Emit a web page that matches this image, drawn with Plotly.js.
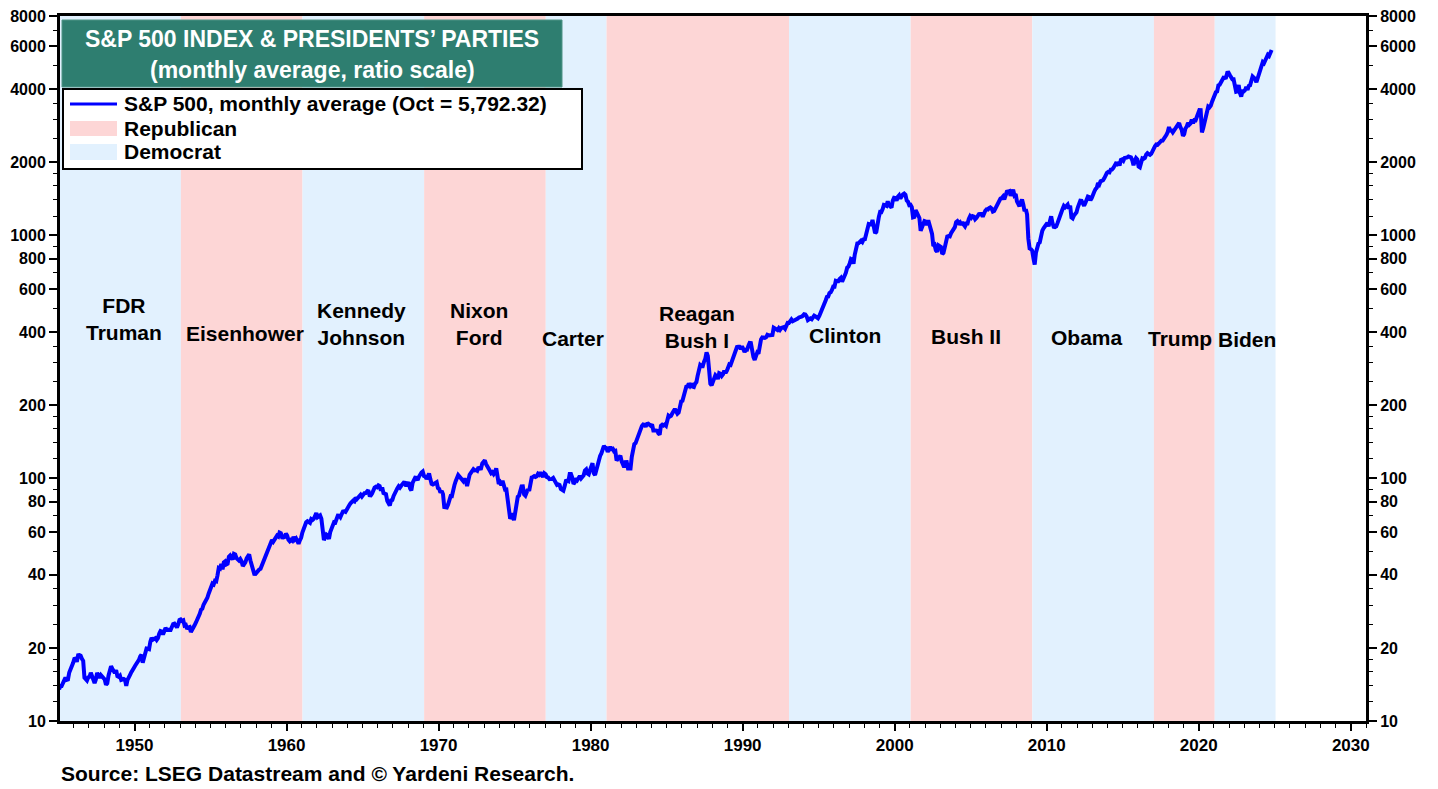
<!DOCTYPE html>
<html>
<head>
<meta charset="utf-8">
<script src="https://cdn.plot.ly/plotly-3.0.1.min.js"></script>
<style>
  html, body { margin: 0; padding: 0; background: #ffffff; }
  #chart { width: 1438px; height: 789px; }
</style>
</head>
<body>
<div id="chart"></div>
<script>
// ---------------- DATA ----------------
// S&P 500 monthly average, starting January 1945 (one row per year, Jan..Dec)
const startYear = 1945;
const sp1940s = [
  13.49, 13.94, 13.93, 14.28, 14.82, 15.09, 14.78, 14.83, 15.84, 16.50, 17.04, 17.33,
  18.02, 18.07, 17.53, 18.66, 18.70, 18.58, 18.05, 17.70, 15.09, 14.75, 14.69, 15.13,
  15.21, 15.80, 15.16, 14.60, 14.34, 14.84, 15.77, 15.46, 15.06, 15.45, 15.27, 15.03,
  14.83, 14.10, 14.30, 15.40, 16.15, 16.82, 16.42, 15.94, 15.76, 16.19, 15.29, 15.19,
  15.36, 14.77, 14.91, 14.89, 14.78, 13.97, 14.76, 15.29, 15.49, 15.89, 16.11, 16.54
];
const sp1950s = [
  16.88, 17.21, 17.35, 17.84, 18.44, 18.74, 17.38, 18.43, 19.08, 19.87, 19.83, 19.75,
  21.21, 22.00, 21.63, 21.92, 21.93, 21.55, 21.93, 22.89, 23.48, 23.36, 22.71, 23.41,
  24.19, 23.75, 23.81, 23.74, 23.73, 24.38, 25.08, 25.18, 24.78, 24.26, 25.03, 26.04,
  26.18, 25.86, 25.99, 24.71, 24.84, 23.95, 24.29, 24.39, 23.27, 23.97, 24.50, 24.83,
  25.46, 26.02, 26.57, 27.63, 28.73, 28.96, 30.13, 30.73, 31.45, 32.18, 33.44, 34.97,
  35.60, 36.79, 36.50, 37.76, 37.60, 39.78, 42.69, 42.43, 44.34, 42.11, 44.95, 45.37,
  44.15, 44.43, 47.49, 48.05, 46.54, 46.27, 48.78, 48.49, 46.84, 46.24, 45.76, 46.44,
  45.43, 43.47, 44.03, 45.05, 46.78, 47.55, 48.51, 45.84, 43.98, 41.24, 40.35, 40.33,
  41.12, 41.26, 42.11, 42.34, 43.70, 44.75, 45.98, 47.70, 48.96, 50.95, 52.50, 53.49,
  55.62, 54.77, 56.15, 57.10, 57.96, 57.46, 59.74, 59.40, 57.05, 57.00, 57.23, 59.06
];
const sp1960s = [
  58.03, 55.78, 55.02, 55.73, 55.22, 57.26, 55.84, 56.51, 54.81, 53.73, 55.47, 56.80,
  59.72, 62.17, 64.12, 65.83, 66.50, 65.62, 65.44, 67.79, 67.26, 68.00, 71.08, 71.74,
  69.07, 70.22, 70.29, 68.05, 62.99, 55.63, 56.97, 58.52, 58.00, 56.17, 60.04, 62.64,
  65.06, 65.92, 65.67, 68.76, 70.14, 70.11, 69.07, 70.98, 72.85, 73.03, 72.62, 74.17,
  76.45, 77.39, 78.80, 79.94, 80.72, 80.24, 83.22, 82.00, 83.41, 84.85, 85.44, 83.96,
  86.12, 86.75, 86.83, 87.97, 89.28, 85.04, 84.91, 86.49, 89.38, 91.39, 92.15, 91.73,
  93.32, 92.69, 88.88, 91.60, 86.78, 86.06, 85.84, 80.65, 77.81, 77.13, 80.99, 81.33,
  84.45, 87.36, 89.42, 90.96, 92.59, 91.43, 93.01, 94.49, 95.81, 95.66, 92.66, 95.30,
  95.04, 90.75, 89.09, 95.67, 97.87, 100.5, 100.3, 98.11, 101.3, 103.8, 105.4, 106.5,
  102.0, 101.5, 99.30, 101.3, 104.6, 99.14, 94.71, 94.18, 94.51, 95.52, 96.21, 91.11
];
const sp1970s = [
  90.31, 87.16, 88.65, 85.95, 76.06, 75.59, 75.72, 77.92, 82.58, 84.37, 84.28, 90.05,
  93.49, 97.11, 99.60, 103.0, 101.6, 99.72, 99.00, 97.24, 99.40, 97.29, 92.78, 99.17,
  103.3, 105.2, 107.7, 108.8, 107.7, 108.0, 107.2, 111.0, 109.4, 109.6, 115.1, 117.5,
  118.4, 114.2, 112.4, 110.3, 107.2, 104.8, 105.8, 103.8, 105.6, 109.8, 102.0, 94.78,
  96.11, 93.45, 97.44, 92.46, 89.67, 89.79, 82.82, 76.03, 68.12, 69.44, 71.74, 67.07,
  72.56, 80.10, 83.78, 84.72, 90.10, 92.40, 92.49, 85.71, 84.67, 88.57, 90.07, 88.70,
  96.86, 100.6, 101.1, 101.9, 101.2, 101.8, 104.2, 103.3, 105.5, 101.9, 101.2, 104.7,
  103.8, 101.0, 100.6, 99.05, 98.76, 99.29, 100.2, 97.75, 96.23, 93.74, 94.28, 93.82,
  90.25, 88.98, 88.82, 92.71, 97.41, 97.66, 97.19, 103.9, 103.9, 100.6, 94.71, 96.11,
  99.71, 98.23, 100.1, 102.1, 99.73, 101.7, 102.7, 107.4, 108.6, 104.5, 103.7, 107.8
];
const sp1980s = [
  110.9, 115.3, 104.7, 103.0, 107.7, 114.6, 119.8, 123.5, 126.5, 130.2, 135.7, 133.5,
  133.0, 128.4, 133.2, 134.4, 131.7, 132.3, 129.1, 129.6, 118.3, 119.8, 122.9, 123.8,
  117.3, 114.5, 110.8, 116.3, 116.4, 109.7, 109.4, 109.7, 122.4, 132.7, 138.1, 139.4,
  144.3, 146.8, 151.9, 157.7, 164.1, 166.4, 166.0, 163.0, 167.2, 167.7, 165.2, 164.4,
  166.4, 157.3, 157.4, 157.6, 156.6, 153.1, 151.1, 164.4, 166.1, 164.8, 166.3, 164.5,
  171.6, 180.9, 179.4, 180.6, 184.9, 188.9, 192.5, 188.3, 184.1, 186.2, 197.5, 207.3,
  208.2, 219.4, 232.3, 238.0, 238.5, 245.3, 240.2, 245.0, 238.3, 237.4, 245.1, 248.6,
  264.5, 280.9, 292.5, 289.3, 289.1, 301.4, 310.1, 329.4, 318.7, 280.2, 245.0, 241.0,
  250.5, 258.1, 265.7, 262.6, 256.1, 270.7, 269.1, 263.7, 268.0, 277.4, 271.0, 276.5,
  285.4, 294.0, 292.7, 302.3, 313.9, 323.7, 331.9, 346.6, 347.3, 347.4, 340.2, 348.6
];
const sp1990s = [
  340.0, 330.5, 338.5, 338.2, 350.3, 360.4, 360.0, 330.8, 315.4, 307.1, 315.3, 328.8,
  325.5, 362.3, 372.3, 379.7, 377.9, 378.3, 380.2, 389.4, 387.2, 386.9, 385.9, 388.5,
  416.1, 412.6, 407.4, 407.4, 414.8, 408.3, 415.1, 417.9, 418.5, 412.5, 422.8, 435.6,
  435.2, 441.7, 450.2, 443.1, 445.3, 448.1, 447.3, 454.1, 459.2, 463.9, 462.9, 466.0,
  473.0, 471.6, 463.8, 447.2, 450.9, 454.8, 451.4, 464.2, 467.0, 463.8, 461.0, 455.2,
  465.3, 481.9, 493.2, 507.9, 523.8, 539.4, 557.4, 559.1, 578.8, 582.9, 595.5, 614.6,
  614.4, 649.5, 647.1, 647.2, 661.2, 668.5, 644.1, 662.7, 674.9, 701.5, 735.7, 743.3,
  766.2, 798.4, 792.2, 763.9, 833.1, 876.3, 925.3, 927.7, 937.0, 951.2, 938.9, 962.4,
  963.4, 1023.7, 1076.8, 1112.2, 1108.4, 1108.4, 1156.6, 1074.6, 1020.6, 1032.5, 1144.4, 1190.1,
  1248.8, 1246.6, 1281.7, 1334.8, 1332.1, 1322.6, 1381.0, 1327.5, 1318.2, 1300.0, 1391.0, 1428.7
];
const sp2000s = [
  1425.6, 1388.9, 1442.2, 1461.4, 1418.5, 1462.0, 1473.0, 1485.5, 1468.1, 1390.1, 1375.0, 1330.9,
  1335.6, 1305.8, 1185.9, 1189.8, 1270.4, 1238.7, 1204.5, 1178.5, 1044.6, 1076.6, 1129.7, 1144.9,
  1140.2, 1100.7, 1153.8, 1112.0, 1079.3, 1014.0, 903.6, 912.6, 867.8, 854.6, 909.9, 899.2,
  895.8, 837.6, 846.6, 890.0, 936.0, 988.0, 992.5, 989.5, 1019.4, 1038.7, 1049.9, 1080.6,
  1132.5, 1143.4, 1124.0, 1133.1, 1102.8, 1132.8, 1105.9, 1088.9, 1117.7, 1118.1, 1168.9, 1199.2,
  1181.4, 1199.6, 1194.9, 1164.4, 1178.3, 1202.3, 1222.2, 1224.3, 1225.9, 1192.0, 1237.4, 1262.1,
  1278.7, 1276.7, 1293.7, 1302.2, 1290.0, 1253.1, 1260.2, 1287.2, 1317.7, 1363.4, 1388.6, 1416.4,
  1424.2, 1444.8, 1407.0, 1463.7, 1511.1, 1514.5, 1520.7, 1454.6, 1497.1, 1539.7, 1463.4, 1479.2,
  1378.8, 1354.9, 1316.9, 1370.5, 1403.2, 1341.3, 1257.3, 1281.5, 1217.0, 968.8, 883.0, 877.6,
  865.6, 805.2, 757.1, 848.2, 902.4, 926.1, 935.8, 1009.7, 1044.6, 1067.7, 1088.1, 1110.4
];
const sp2010s = [
  1123.6, 1089.2, 1152.1, 1197.3, 1125.1, 1083.4, 1079.8, 1087.3, 1122.1, 1171.6, 1198.9, 1241.5,
  1282.6, 1321.1, 1304.5, 1331.5, 1338.3, 1287.3, 1325.2, 1185.3, 1173.9, 1207.2, 1226.4, 1243.3,
  1300.6, 1352.5, 1389.2, 1386.4, 1341.3, 1323.5, 1359.8, 1403.4, 1443.4, 1437.8, 1394.5, 1422.3,
  1480.4, 1512.3, 1550.8, 1570.7, 1639.8, 1618.8, 1668.7, 1670.1, 1687.2, 1720.0, 1783.5, 1807.8,
  1822.4, 1817.0, 1863.5, 1864.3, 1889.8, 1947.1, 1973.1, 1961.5, 1993.2, 1937.3, 2044.6, 2054.3,
  2028.2, 2082.2, 2080.4, 2094.9, 2111.9, 2099.3, 2094.1, 2039.9, 1944.4, 2024.8, 2080.6, 2054.1,
  1918.6, 1904.4, 2022.0, 2075.5, 2065.6, 2083.9, 2148.9, 2177.5, 2157.7, 2143.0, 2165.0, 2246.6,
  2275.1, 2329.9, 2366.8, 2359.3, 2395.4, 2434.0, 2454.1, 2456.2, 2492.8, 2557.0, 2593.6, 2664.3,
  2789.8, 2705.2, 2702.8, 2653.6, 2701.5, 2754.4, 2793.6, 2857.8, 2901.5, 2785.5, 2723.2, 2567.3,
  2607.4, 2754.9, 2804.0, 2903.8, 2854.7, 2890.2, 2996.1, 2897.5, 2982.2, 2977.7, 3104.9, 3176.8
];
const sp2020s = [
  3278.2, 3277.3, 2652.4, 2762.0, 2919.6, 3104.7, 3207.6, 3391.7, 3365.5, 3418.7, 3549.0, 3695.3,
  3793.8, 3883.4, 3910.5, 4141.2, 4167.9, 4238.5, 4363.7, 4454.2, 4445.5, 4460.7, 4667.4, 4674.8,
  4573.8, 4436.0, 4391.3, 4391.3, 4040.4, 3899.0, 3911.7, 4158.6, 3850.5, 3726.1, 3917.5, 3912.4,
  3960.7, 4079.7, 3968.6, 4121.5, 4146.2, 4345.4, 4508.1, 4457.4, 4409.1, 4269.4, 4460.1, 4685.1,
  4815.6, 5012.0, 5170.6, 5112.5, 5235.2, 5415.1, 5538.0, 5478.0, 5621.0, 5792.32
];

// Presidential terms (inauguration dates as decimal years) and party
const termStart = [1945.05, 1953.05, 1961.05, 1969.05, 1977.05, 1981.05, 1993.05, 2001.05, 2009.05, 2017.05, 2021.05];
const termEnd   = [1953.05, 1961.05, 1969.05, 1977.05, 1981.05, 1993.05, 2001.05, 2009.05, 2017.05, 2021.05, 2025.05];
const termParty = ['D', 'R', 'D', 'R', 'D', 'R', 'D', 'R', 'D', 'R', 'D'];
const termNames = ['FDR<br>Truman', 'Eisenhower', 'Kennedy<br>Johnson', 'Nixon<br>Ford', 'Carter',
                   'Reagan<br>Bush I', 'Clinton', 'Bush II', 'Obama', 'Trump', 'Biden'];

// Axis tick labels
const yTickVals = [10, 20, 40, 60, 80, 100, 200, 400, 600, 800, 1000, 2000, 4000, 6000, 8000];
const yTickText = ['10', '20', '40', '60', '80', '100', '200', '400', '600', '800', '1000', '2000', '4000', '6000', '8000'];

const titleLine1 = 'S&P 500 INDEX & PRESIDENTS’ PARTIES';
const titleLine2 = '(monthly average, ratio scale)';
const legendLine = 'S&P 500, monthly average (Oct = 5,792.32)';
const legendRep = 'Republican';
const legendDem = 'Democrat';
const sourceText = 'Source: LSEG Datastream and © Yardeni Research.';

// ---------------- BUILD ----------------
const values = [].concat(sp1940s, sp1950s, sp1960s, sp1970s, sp1980s, sp1990s, sp2000s, sp2010s, sp2020s);
const dates = values.map((v, i) => startYear + (i + 0.5) / 12);

// layout geometry (pixels of the 1438x789 canvas)
const W = 1438, H = 789;
const M = { l: 60, r: 72, t: 16, b: 68 };
const PW = W - M.l - M.r, PH = H - M.t - M.b;
const px = x => (x - M.l) / PW;            // pixel -> paper x
const py = y => (H - M.b - y) / PH;        // pixel -> paper y

const REP = '#fdd6d6';
const DEM = '#e2f1fe';
const FONT = 'Liberation Sans, Arial, Helvetica, sans-serif';

// label positions (pixel centres) for each term label
const labelPos = [[124, 319], [245, 333], [361, 324], [479, 324], [573, 338], [697, 327],
                  [845, 335], [966, 336], [1087, 337], [1180, 338], [1247, 339]];

const shapes = [];
termStart.forEach((s, i) => {
  shapes.push({
    type: 'rect', xref: 'x', yref: 'paper', x0: s, x1: termEnd[i], y0: 0, y1: 1,
    fillcolor: termParty[i] === 'R' ? REP : DEM, line: { width: 0 }, layer: 'below'
  });
});

// title box
shapes.push({ type: 'rect', xref: 'paper', yref: 'paper', x0: px(62), x1: px(562), y0: py(87), y1: py(20),
  fillcolor: '#2e7e70', line: { color: '#4f9486', width: 1 }, layer: 'above' });
// legend box
shapes.push({ type: 'rect', xref: 'paper', yref: 'paper', x0: px(63), x1: px(582), y0: py(169), y1: py(89),
  fillcolor: '#ffffff', line: { color: '#000000', width: 2 }, layer: 'above' });
shapes.push({ type: 'line', xref: 'paper', yref: 'paper', x0: px(70), x1: px(117), y0: py(104), y1: py(104),
  line: { color: '#0000ff', width: 3 }, layer: 'above' });
shapes.push({ type: 'rect', xref: 'paper', yref: 'paper', x0: px(70), x1: px(117), y0: py(136), y1: py(121),
  fillcolor: REP, line: { width: 0 }, layer: 'above' });
shapes.push({ type: 'rect', xref: 'paper', yref: 'paper', x0: px(70), x1: px(117), y0: py(160), y1: py(144),
  fillcolor: DEM, line: { width: 0 }, layer: 'above' });

const annotations = [];
termNames.forEach((n, i) => {
  annotations.push({ xref: 'paper', yref: 'paper', x: px(labelPos[i][0]), y: py(labelPos[i][1]),
    text: '<b>' + n + '</b>', showarrow: false, xanchor: 'center', yanchor: 'middle',
    font: { family: FONT, size: 21, color: '#000000' } });
});
annotations.push({ xref: 'paper', yref: 'paper', x: px(312), y: py(39), text: '<b>' + titleLine1 + '</b>',
  showarrow: false, xanchor: 'center', yanchor: 'middle', font: { family: FONT, size: 23, color: '#ffffff' } });
annotations.push({ xref: 'paper', yref: 'paper', x: px(312), y: py(70), text: '<b>' + titleLine2 + '</b>',
  showarrow: false, xanchor: 'center', yanchor: 'middle', font: { family: FONT, size: 23, color: '#ffffff' } });
[[legendLine, 104], [legendRep, 128], [legendDem, 151]].forEach(([t, y]) => {
  annotations.push({ xref: 'paper', yref: 'paper', x: px(122), y: py(y), text: '<b>' + t + '</b>',
    showarrow: false, xanchor: 'left', yanchor: 'middle', font: { family: FONT, size: 21, color: '#000000' } });
});
annotations.push({ xref: 'paper', yref: 'paper', x: px(59), y: py(773), text: '<b>' + sourceText + '</b>',
  showarrow: false, xanchor: 'left', yanchor: 'middle', font: { family: FONT, size: 21, color: '#000000' } });

// minor ticks for log axis
const minorY = [];
[1, 10, 100, 1000].forEach(m => {
  [12, 14, 16, 18, 25, 30, 35, 50, 70, 90].forEach(k => { if (k * m <= 8000) minorY.push(k * m); });
});

const yAxisCommon = {
  type: 'log', range: [1, Math.log10(8000)], tickmode: 'array', tickvals: yTickVals,
  ticktext: yTickText.map(t => '<b>' + t + '</b>'), ticks: 'outside', ticklen: 8, tickwidth: 2,
  tickcolor: '#000', showgrid: false, zeroline: false, showline: true, linecolor: '#000', linewidth: 3,
  tickfont: { family: FONT, size: 16, color: '#000' },
  minor: { tickmode: 'array', tickvals: minorY, ticks: 'outside', ticklen: 4, tickwidth: 1, tickcolor: '#000', showgrid: false }
};

const data = [
  { type: 'scatter', mode: 'lines', x: dates, y: values, name: legendLine,
    line: { color: '#0000ff', width: 4 }, hoverinfo: 'x+y', showlegend: false },
  { type: 'scatter', mode: 'lines', x: dates, y: values, yaxis: 'y2',
    line: { color: 'rgba(0,0,0,0)', width: 0 }, hoverinfo: 'skip', showlegend: false }
];

const layout = {
  width: W, height: H, margin: M, paper_bgcolor: '#ffffff', plot_bgcolor: '#ffffff',
  showlegend: false,
  xaxis: {
    range: [1945.1, 2031.0], tickmode: 'linear', tick0: 1950, dtick: 10,
    ticks: 'outside', ticklen: 7, tickwidth: 2, tickcolor: '#000',
    showline: true, linecolor: '#000', linewidth: 3, mirror: true,
    showgrid: false, zeroline: false,
    tickfont: { family: FONT, size: 17, color: '#000', weight: 'bold' },
    minor: { dtick: 1, tick0: 1950, ticks: 'outside', ticklen: 4, tickwidth: 1, tickcolor: '#000', showgrid: false }
  },
  yaxis: Object.assign({}, yAxisCommon, { side: 'left', mirror: false }),
  yaxis2: Object.assign({}, yAxisCommon, { side: 'right', overlaying: 'y', anchor: 'x' }),
  shapes: shapes,
  annotations: annotations
};

Plotly.newPlot('chart', data, layout, { displayModeBar: false, staticPlot: true });
</script>
</body>
</html>
